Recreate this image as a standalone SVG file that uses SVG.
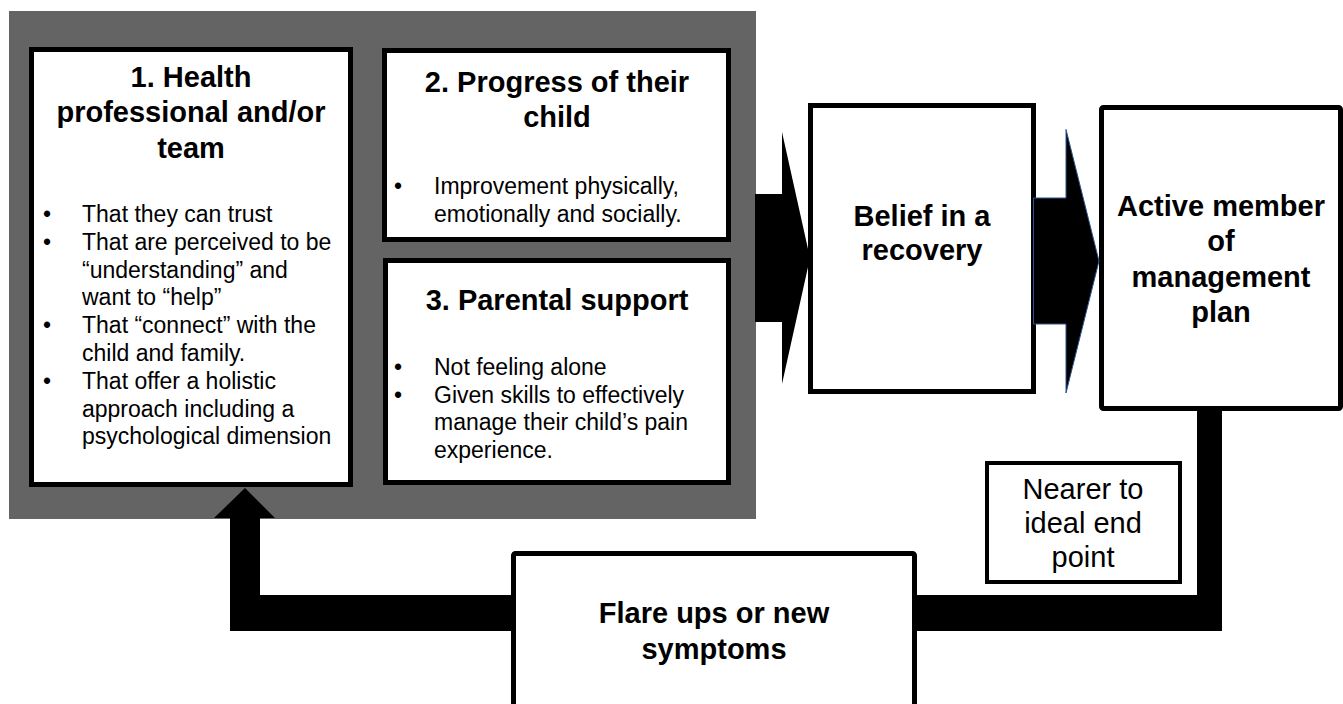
<svg xmlns="http://www.w3.org/2000/svg" width="1343" height="704" viewBox="0 0 1343 704">
<style>
.box{fill:#fff;stroke:#000;stroke-width:5}
.t{font-family:"Liberation Sans",Arial,sans-serif;font-weight:bold;font-size:29px;fill:#000;text-anchor:middle}
.b{font-family:"Liberation Sans",Arial,sans-serif;font-size:23px;fill:#000}
.n{font-family:"Liberation Sans",Arial,sans-serif;font-size:29px;fill:#000;text-anchor:middle}
.arr{fill:#000}
</style>
<rect x="0" y="0" width="1343" height="704" fill="#fff"/>
<rect id="panel" x="9" y="11" width="747" height="508" fill="#646464"/>

<g id="node1">
<rect class="box" x="31.5" y="49.5" width="319" height="435"/>
<text class="t" x="191" y="87">1. Health</text>
<text class="t" x="191" y="122">professional and/or</text>
<text class="t" x="191" y="158">team</text>
<g class="b">
<text x="43" y="222">•</text><text x="82" y="222">That they can trust</text>
<text x="43" y="250">•</text><text x="82" y="250">That are perceived to be</text>
<text x="82" y="278">“understanding” and</text>
<text x="82" y="305">want to “help”</text>
<text x="43" y="333">•</text><text x="82" y="333">That “connect” with the</text>
<text x="82" y="361">child and family.</text>
<text x="43" y="389">•</text><text x="82" y="389">That offer a holistic</text>
<text x="82" y="417">approach including a</text>
<text x="82" y="444">psychological dimension</text>
</g>
</g>

<g id="node2">
<rect class="box" x="384.5" y="50.5" width="344" height="189"/>
<text class="t" x="557" y="92">2. Progress of their</text>
<text class="t" x="557" y="127">child</text>
<g class="b">
<text x="394" y="194">•</text><text x="434" y="194">Improvement physically,</text>
<text x="434" y="222">emotionally and socially.</text>
</g>
</g>

<g id="node3">
<rect class="box" x="385.5" y="260.5" width="343" height="222"/>
<text class="t" x="557" y="310">3. Parental support</text>
<g class="b">
<text x="394" y="375">•</text><text x="434" y="375">Not feeling alone</text>
<text x="394" y="403">•</text><text x="434" y="403">Given skills to effectively</text>
<text x="434" y="430">manage their child’s pain</text>
<text x="434" y="458">experience.</text>
</g>
</g>

<g id="belief">
<rect class="box" x="810.5" y="105.5" width="223" height="286"/>
<text class="t" x="922" y="226">Belief in a</text>
<text class="t" x="922" y="260">recovery</text>
</g>

<g id="active">
<rect class="box" x="1101.5" y="107.5" width="239" height="301" rx="2"/>
<text class="t" x="1221" y="216">Active member</text>
<text class="t" x="1221" y="251">of</text>
<text class="t" x="1221" y="287">management</text>
<text class="t" x="1221" y="322">plan</text>
</g>

<g id="flare">
<rect class="box" x="513.5" y="553.5" width="401" height="200" rx="2"/>
<text class="t" x="714" y="623">Flare ups or new</text>
<text class="t" x="714" y="659">symptoms</text>
</g>

<g id="nearer">
<rect x="987" y="463" width="193" height="119" fill="#fff" stroke="#000" stroke-width="4"/>
<text class="n" x="1083" y="499">Nearer to</text>
<text class="n" x="1083" y="533">ideal end</text>
<text class="n" x="1083" y="567">point</text>
</g>

<g id="connectors">
<polygon class="arr" points="755,194 782,194 782,132 810,258 782,384 782,322 755,322"/>
<polygon class="arr" points="1033.5,198 1066,198 1066,129.5 1099,261 1066,393 1066,324 1033.5,324" stroke="#2F528F" stroke-width="1"/>
<polygon class="arr" points="1197,409 1222,409 1222,631 913,631 913,595 1197,595"/>
<polygon class="arr" points="230,631 514,631 514,595 260,595 260,518 275,518 245,488 214,518 230,518"/>
</g>
</svg>
